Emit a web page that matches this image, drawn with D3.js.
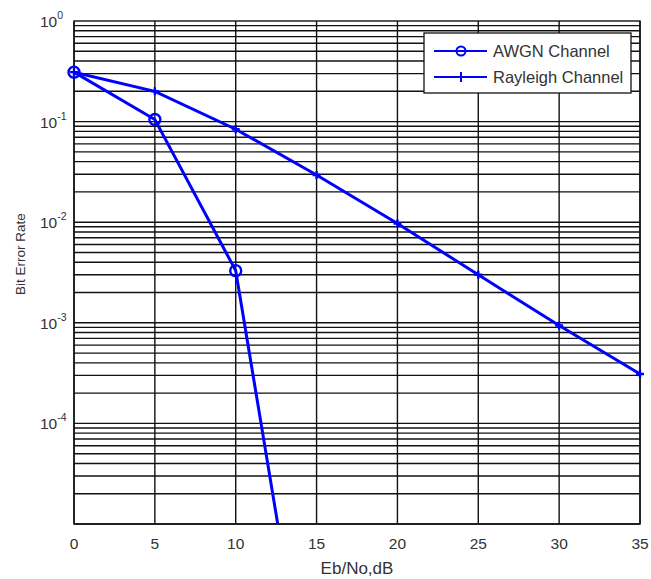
<!DOCTYPE html>
<html><head><meta charset="utf-8">
<script src="https://cdn.jsdelivr.net/npm/d3@7"></script>
<style>body{margin:0;background:#fff}svg{display:block}text{font-family:"Liberation Sans",Arial,sans-serif;fill:#333}</style>
</head><body>
<script>
const ebno = [0, 5, 10, 15, 20, 25, 30, 35];
const awgnX = [0, 5, 10, 15];
const awgnBER = [0.31, 0.105, 0.0033, 4.7e-8];
const rayleighBER = [0.31, 0.2, 0.084, 0.0295, 0.0097, 0.0030, 0.00094, 0.00031];
const xTicks = [0, 5, 10, 15, 20, 25, 30, 35];
const yDecades = [0, -1, -2, -3, -4];
const seriesNames = ["AWGN Channel", "Rayleigh Channel"];

const W = 651, H = 579;
const L = 74, R = 640, T = 21, B = 524;
const svg = d3.select("body").append("svg").attr("width", W).attr("height", H);
const x = d3.scaleLinear().domain([0, 35]).range([L, R]);
const y = d3.scaleLog().domain([1e-5, 1]).range([B, T]);

// grid
const g = svg.append("g");
const minor = [];
for (let e = -5; e < 0; e++) for (let m = 1; m <= 9; m++) minor.push(m * Math.pow(10, e));
g.selectAll("line.h").data(minor).join("line")
  .attr("x1", L).attr("x2", R).attr("y1", d => y(d)).attr("y2", d => y(d))
  .attr("stroke", "#111").attr("stroke-width", 1.4);
g.selectAll("line.v").data(xTicks).join("line")
  .attr("y1", T).attr("y2", B).attr("x1", d => x(d)).attr("x2", d => x(d))
  .attr("stroke", "#111").attr("stroke-width", 1.4);
svg.append("rect").attr("x", L).attr("y", T).attr("width", R - L).attr("height", B - T)
  .attr("fill", "none").attr("stroke", "#111").attr("stroke-width", 1.4);

// tick labels
svg.selectAll("text.xt").data(xTicks).join("text")
  .attr("x", d => x(d)).attr("y", 549).attr("text-anchor", "middle")
  .attr("font-size", 15.5).text(d => d);
const yt = svg.selectAll("text.yt").data(yDecades).join("text")
  .attr("x", 40).attr("y", d => y(Math.pow(10, d)) + 6).attr("font-size", 15.5);
yt.append("tspan").text("10");
yt.append("tspan").attr("dy", -8).attr("font-size", 10.5).text(d => d);

// axis labels
svg.append("text").attr("x", x(17.5)).attr("y", 574).attr("text-anchor", "middle")
  .attr("font-size", 17).text("Eb/No,dB");
svg.append("text").attr("transform", "translate(25,254) rotate(-90)").attr("text-anchor", "middle")
  .attr("font-size", 13.5).text("Bit Error Rate");

// data
svg.append("clipPath").attr("id", "clip").append("rect")
  .attr("x", L - 8).attr("y", T - 8).attr("width", R - L + 16).attr("height", B - T + 8);
const plot = svg.append("g").attr("clip-path", "url(#clip)");
const line = d3.line().x(d => x(d[0])).y(d => y(d[1]));
const awgn = awgnX.map((v, i) => [v, awgnBER[i]]);
const ray = ebno.map((v, i) => [v, rayleighBER[i]]);
plot.append("path").datum(ray).attr("d", line).attr("fill", "none").attr("stroke", "#0000ff").attr("stroke-width", 3);
plot.append("path").datum(awgn).attr("d", line).attr("fill", "none").attr("stroke", "#0000ff").attr("stroke-width", 3);
plot.selectAll("circle.m").data(awgn.filter(d => d[1] >= 1e-5)).join("circle")
  .attr("cx", d => x(d[0])).attr("cy", d => y(d[1])).attr("r", 5.5)
  .attr("fill", "none").attr("stroke", "#0000ff").attr("stroke-width", 2.4);
plot.selectAll("path.p").data(ray).join("path")
  .attr("d", "M-4,0H4M0,-4V4").attr("transform", d => `translate(${x(d[0])},${y(d[1])})`)
  .attr("stroke", "#0000ff").attr("stroke-width", 2.4).attr("fill", "none");

// legend
const lg = svg.append("g");
lg.append("rect").attr("x", 424).attr("y", 33).attr("width", 207).attr("height", 60)
  .attr("fill", "#fff").attr("stroke", "#111").attr("stroke-width", 1.3);
const ly = [51, 77];
seriesNames.forEach((name, i) => {
  lg.append("line").attr("x1", 434).attr("x2", 487).attr("y1", ly[i]).attr("y2", ly[i])
    .attr("stroke", "#0000ff").attr("stroke-width", 2);
  if (i === 0) lg.append("circle").attr("cx", 461).attr("cy", ly[i]).attr("r", 4.5)
    .attr("fill", "none").attr("stroke", "#0000ff").attr("stroke-width", 2);
  else lg.append("path").attr("d", `M461,${ly[i] - 5}V${ly[i] + 5}M456,${ly[i]}H466`)
    .attr("stroke", "#0000ff").attr("stroke-width", 2);
  lg.append("text").attr("x", 493).attr("y", ly[i] + 6).attr("font-size", 16.5).text(name);
});
</script>
</body></html>
